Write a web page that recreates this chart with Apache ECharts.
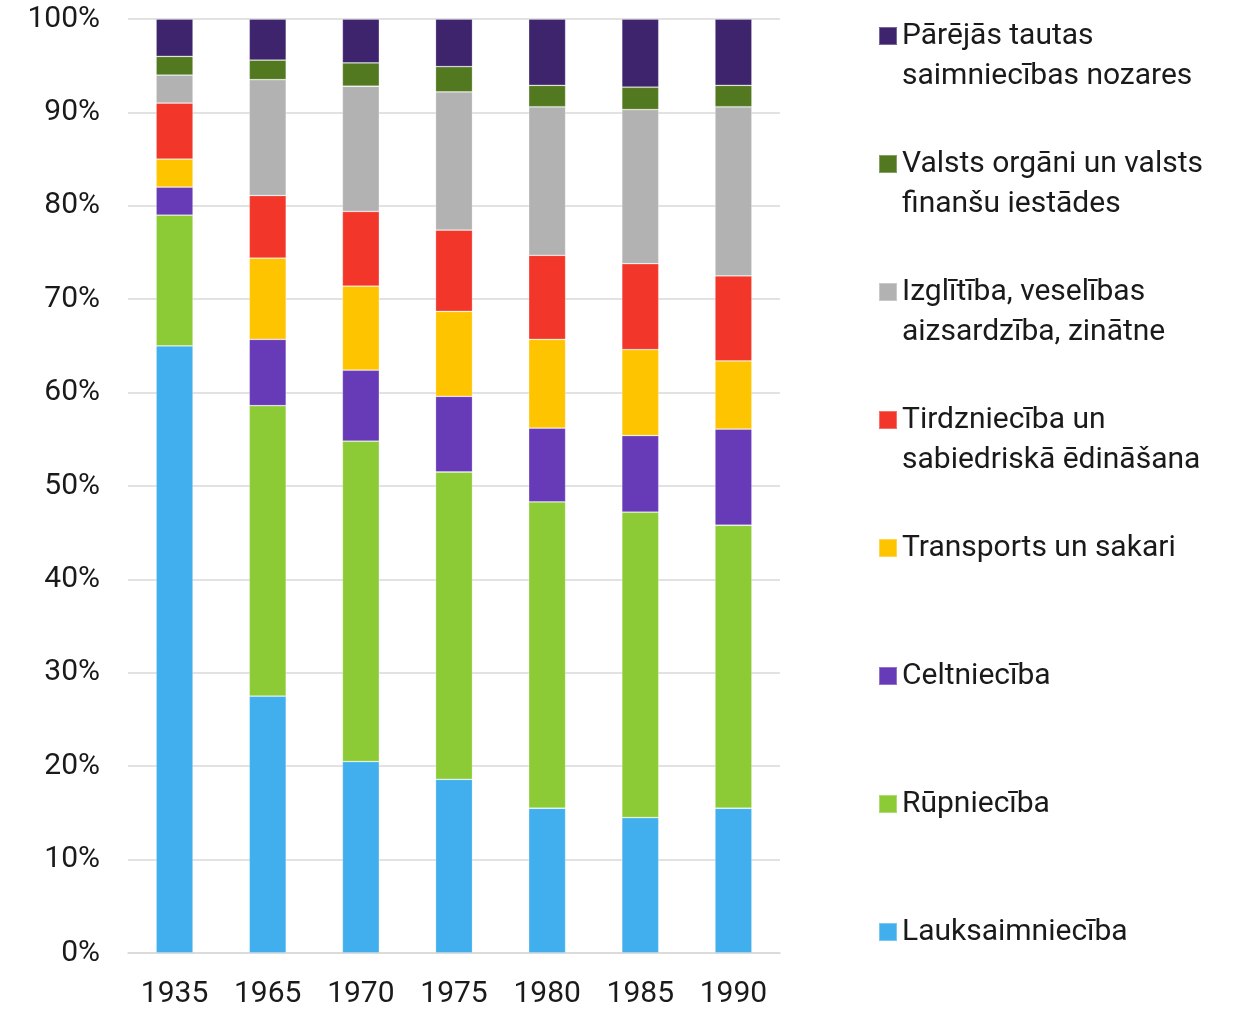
<!DOCTYPE html>
<html>
<head>
<meta charset="utf-8">
<script src="https://cdn.jsdelivr.net/npm/echarts@6/dist/echarts.min.js"></script>
<style>
html,body{margin:0;padding:0;background:#fff;}
#chart{width:1235px;height:1009px;}
</style>
</head>
<body>
<div id="chart"></div>
<script>
const categories = ['1935', '1965', '1970', '1975', '1980', '1985', '1990'];
const yTicks = [0, 10, 20, 30, 40, 50, 60, 70, 80, 90, 100];

const lauksaimnieciba = [65, 27.5, 20.5, 18.6, 15.5, 14.5, 15.5];
const rupnieciba     = [14, 31.1, 34.3, 32.9, 32.8, 32.7, 30.3];
const celtnieciba    = [3, 7.1, 7.6, 8.1, 7.9, 8.2, 10.3];
const transports     = [3, 8.7, 9.0, 9.1, 9.5, 9.2, 7.3];
const tirdznieciba   = [6, 6.7, 8.0, 8.7, 9.0, 9.2, 9.1];
const izglitiba      = [3, 12.4, 13.4, 14.8, 15.9, 16.5, 18.1];
const valsts         = [2, 2.1, 2.5, 2.7, 2.3, 2.4, 2.3];
const parejas        = [4, 4.4, 4.7, 5.1, 7.1, 7.3, 7.1];

const seriesNames = [
  'Lauksaimniecība',
  'Rūpniecība',
  'Celtniecība',
  'Transports un sakari',
  'Tirdzniecība un\nsabiedriskā ēdināšana',
  'Izglītība, veselības\naizsardzība, zinātne',
  'Valsts orgāni un valsts\nfinanšu iestādes',
  'Pārējās tautas\nsaimniecības nozares'
];
const seriesData = [lauksaimnieciba, rupnieciba, celtnieciba, transports, tirdznieciba, izglitiba, valsts, parejas];
const colors = ['#41afed', '#8ccb36', '#673ab7', '#ffc400', '#f23629', '#b2b2b2', '#52791f', '#3e246c'];

const FONT = 'Roboto';
const FS = 30;

const series = seriesNames.map((n, i) => ({
  name: n,
  type: 'bar',
  stack: 'total',
  barWidth: 37,
  data: seriesData[i],
  itemStyle: { color: colors[i], borderColor: 'rgba(255,255,255,0.3)', borderWidth: 0.8 },
  emphasis: { disabled: true }
}));

// legend: top-to-bottom order is reverse of stack order
const legends = [];
for (let k = 0; k < 8; k++) {
  const idx = 7 - k;
  const name = seriesNames[idx];
  const twoLine = name.indexOf('\n') >= 0;
  const cy = 36 + 128 * k;
  legends.push({
    data: [name],
    orient: 'vertical',
    left: 878,
    top: twoLine ? cy - 60 : cy - 20,
    padding: 0,
    itemWidth: 18,
    itemHeight: 18,
    icon: 'rect',
    selectedMode: false,
    formatter: twoLine ? (nm => '\n' + nm) : (nm => nm),
    textStyle: {
      fontFamily: FONT,
      fontSize: FS,
      color: '#1a1a1a',
      lineHeight: 40
    }
  });
}

const chart = echarts.init(document.getElementById('chart'));
chart.setOption({
  animation: false,
  backgroundColor: '#ffffff',
  grid: { left: 128, right: 455, top: 19, bottom: 50, containLabel: false },
  legend: legends,
  xAxis: {
    type: 'category',
    data: categories,
    axisLine: { show: true, lineStyle: { color: '#d9d9d9', width: 1.5 } },
    axisTick: { show: false },
    axisLabel: { fontFamily: FONT, fontSize: FS, color: '#1a1a1a', margin: 26 }
  },
  yAxis: {
    type: 'value',
    min: yTicks[0],
    max: yTicks[yTicks.length - 1],
    interval: 10,
    axisLine: { show: false },
    axisTick: { show: false },
    splitLine: { lineStyle: { color: '#d9d9d9', width: 1.5 } },
    axisLabel: { fontFamily: FONT, fontSize: FS, color: '#1a1a1a', margin: 28, formatter: '{value}%' }
  },
  series: series
});
</script>
</body>
</html>
